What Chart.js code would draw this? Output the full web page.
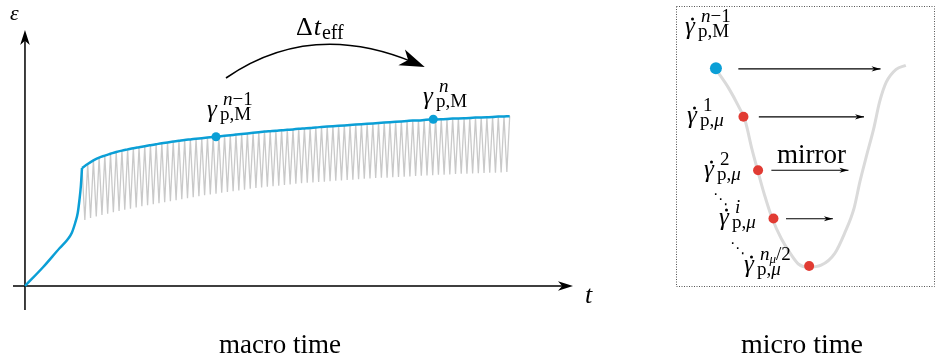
<!DOCTYPE html>
<html>
<head>
<meta charset="utf-8">
<script src="https://cdn.jsdelivr.net/npm/chart.js@4.4.1/dist/chart.umd.min.js"></script>
<style>
    html, body { margin: 0; padding: 0; background: #fff; overflow: hidden; }
    #macroChart { position: absolute; left: 0; top: 0; }
    #microChart { position: absolute; left: 670px; top: 0; }
</style>
</head>
<body>
<canvas id="macroChart" width="670" height="360"></canvas>
<canvas id="microChart" width="271" height="360"></canvas>
<script>
// macro time: x = load cycle, y = strain (arbitrary units)
const rampCycle = [0, 3.2, 6.1, 7.4, 8.2, 8.8, 9.25, 9.55, 9.8, 10];
const rampStrain = [0, 9.5, 19, 23, 26.5, 31.5, 36.5, 43, 50, 59];

const firstCycle = 10;
// strain at the top of each cycle (cycle 10 .. 85)
const peakStrain = [
    59, 61, 62.8, 64.2, 65.2, 66.1, 67, 67.7, 68.3, 68.9,
    69.4, 69.9, 70.4, 70.9, 71.4, 71.8, 72.2, 72.6, 73.0, 73.3,
    73.6, 73.9, 74.2, 74.5, 74.8, 75.1, 75.4, 75.7, 76.0, 76.3,
    76.6, 76.9, 77.2, 77.4, 77.6, 77.9, 78.1, 78.3, 78.6, 78.8,
    79.0, 79.3, 79.5, 79.7, 79.9, 80.1, 80.3, 80.5, 80.7, 80.9,
    81.1, 81.3, 81.5, 81.7, 81.9, 82.1, 82.3, 82.5, 82.7, 82.8,
    83.0, 83.2, 83.3, 83.4, 83.5, 83.7, 83.8, 83.9, 84.0, 84.2,
    84.3, 84.4, 84.5, 84.7, 84.8, 84.9
];
// strain at the bottom of each cycle (cycle 10.5 .. 84.5)
const valleyStrain = [
    33, 34, 34.8, 35.5, 36.2, 36.9, 37.5, 38.1, 38.7, 39.3,
    39.9, 40.4, 40.9, 41.4, 41.9, 42.4, 42.9, 43.4, 43.9, 44.4,
    44.9, 45.4, 45.8, 46.2, 46.6, 47.0, 47.4, 47.8, 48.2, 48.6,
    49.0, 49.3, 49.6, 49.9, 50.2, 50.5, 50.8, 51.1, 51.4, 51.6,
    51.8, 52.0, 52.2, 52.4, 52.6, 52.8, 53.0, 53.2, 53.4, 53.6,
    53.8, 54.0, 54.1, 54.2, 54.4, 54.5, 54.7, 54.8, 55.0, 55.1,
    55.3, 55.4, 55.6, 55.7, 55.8,
    56.0, 56.1, 56.2, 56.3, 56.4, 56.5, 56.6, 56.7, 56.8, 57.0
];
const macroMarkCycle = [33.5, 71.6];
const macroMarkStrain = [74.65, 83.35];

// micro time: x = phase within one cycle, y = plastic strain rate
const microPhase = [0, 0.067, 0.118, 0.154, 0.19, 0.221, 0.256, 0.297, 0.344, 0.395, 0.436, 0.487,
    0.554, 0.626, 0.677, 0.728, 0.759, 0.795, 0.831, 0.862, 0.897, 0.949, 1.0];
const microRate = [110, 100.5, 91.5, 84, 69.5, 58.5, 46.5, 34.5, 24.5, 16.5, 11.5, 10,
    11, 17, 27, 40, 53.5, 67, 80, 93.5, 103.5, 110, 112];
const startPhase = [0];
const startRate = [110.5];
const subPhase = [0.145, 0.222, 0.303, 0.491];
const subRate = [86, 59, 34.6, 10.6];
const mirrorFrom = [0.118, 0.226, 0.292, 0.369];
const mirrorTo = [0.897, 0.81, 0.728, 0.646];
const mirrorRate = [110.2, 86, 59, 34.5];

const BLUE = '#0b9fd6';
const RED = '#e13b33';
const SERIF = '"Liberation Serif", "DejaVu Serif", serif';

function font(size, italic) {
    return (italic ? 'italic ' : '') + size + 'px ' + SERIF;
}

function stealth(ctx, x, y, ang, len, half) {
    ctx.save();
    ctx.translate(x, y);
    ctx.rotate(ang);
    ctx.beginPath();
    ctx.moveTo(0, 0);
    ctx.lineTo(-len, -half);
    ctx.lineTo(-len * 0.72, 0);
    ctx.lineTo(-len, half);
    ctx.closePath();
    ctx.fill();
    ctx.restore();
}

function drawRuns(ctx, x, y, list, size) {
    for (const [txt, it, small] of list) {
        const s = small ? Math.round(size * 0.7) : size;
        ctx.font = font(s, it);
        ctx.fillText(txt, x, y + (small ? 3 : 0));
        x += ctx.measureText(txt).width;
    }
    return x;
}

function mathLabel(ctx, lab) {
    ctx.fillStyle = '#000';
    ctx.textAlign = 'left';
    ctx.textBaseline = 'alphabetic';
    ctx.font = font(25, true);
    ctx.fillText('γ', lab.x, lab.y);
    if (lab.dot) {
        ctx.beginPath();
        ctx.arc(lab.x + 7.5, lab.y - 15, 1.5, 0, Math.PI * 2);
        ctx.fill();
    }
    drawRuns(ctx, lab.x + 16, lab.y - 12, lab.sup, 19);
    drawRuns(ctx, lab.x + 13, lab.y + 3, lab.sub, 19);
}

function pt(xs, ys) {
    return xs.map((v, i) => ({ x: v, y: ys[i] }));
}

const sawPoints = [];
peakStrain.forEach((e, i) => {
    sawPoints.push({ x: firstCycle + i, y: e });
    if (i < valleyStrain.length) sawPoints.push({ x: firstCycle + i + 0.5, y: valleyStrain[i] });
});
const envelopePoints = peakStrain.map((e, i) => ({ x: firstCycle + i, y: e }));

const macroDecor = {
    id: 'macroDecor',
    beforeDatasetsDraw(chart) {
        const ctx = chart.ctx;
        const xs = chart.scales.x, ys = chart.scales.y;
        const ca = chart.chartArea;
        const x0 = xs.getPixelForValue(0), y0 = ys.getPixelForValue(0);
        ctx.save();
        ctx.strokeStyle = '#000';
        ctx.fillStyle = '#000';
        ctx.lineWidth = 1.5;
        ctx.beginPath();
        ctx.moveTo(x0, ca.bottom);
        ctx.lineTo(x0, ca.top + 10);
        ctx.moveTo(ca.left, y0);
        ctx.lineTo(ca.right - 10, y0);
        ctx.stroke();
        stealth(ctx, x0, ca.top, -Math.PI / 2, 15, 4.8);
        stealth(ctx, ca.right, y0, 0, 15, 4.8);
        ctx.restore();
    },
    afterDatasetsDraw(chart) {
        const ctx = chart.ctx;
        const xs = chart.scales.x, ys = chart.scales.y;
        ctx.save();
        ctx.fillStyle = '#000';
        ctx.textBaseline = 'alphabetic';

        // axis names
        ctx.font = font(22, true);
        ctx.fillText('ε', 10, 20);
        ctx.font = font(26, true);
        ctx.fillText('t', 585, 303);

        // effective time jump arc
        const sx = xs.getPixelForValue(35.25), sy = ys.getPixelForValue(104);
        const cx = xs.getPixelForValue(50.1), cy = ys.getPixelForValue(133.25);
        const ex = xs.getPixelForValue(70.1), ey = ys.getPixelForValue(109.5);
        const ang = Math.atan2(ey - cy, ex - cx);
        ctx.strokeStyle = '#000';
        ctx.lineWidth = 1.6;
        ctx.beginPath();
        ctx.moveTo(sx, sy);
        ctx.quadraticCurveTo(cx, cy, ex - 12 * Math.cos(ang), ey - 12 * Math.sin(ang));
        ctx.stroke();
        stealth(ctx, ex, ey, ang, 25, 8.5);

        ctx.font = font(26, false);
        ctx.fillText('Δ', 296, 35);
        let w = ctx.measureText('Δ').width;
        ctx.font = font(26, true);
        ctx.fillText('t', 296 + w + 1, 35);
        w += ctx.measureText('t').width + 2;
        ctx.font = font(20, false);
        ctx.fillText('eff', 296 + w, 39);

        mathLabel(ctx, { x: 207, y: 117, sup: [['n', 1], ['−1', 0]], sub: [['p,M', 0]] });
        mathLabel(ctx, { x: 423, y: 104, sup: [['n', 1]], sub: [['p,M', 0]] });

        ctx.font = font(27, false);
        ctx.textAlign = 'center';
        ctx.fillText('macro time', 280, 353);
        ctx.restore();
    }
};

new Chart(document.getElementById('macroChart'), {
    type: 'line',
    data: {
        datasets: [
            {
                data: pt(macroMarkCycle, macroMarkStrain),
                showLine: false,
                pointRadius: 4.5,
                pointBackgroundColor: BLUE,
                pointBorderWidth: 0,
                order: 0
            },
            {
                data: pt(rampCycle, rampStrain),
                borderColor: BLUE,
                borderWidth: 2.5,
                cubicInterpolationMode: 'monotone',
                order: 1
            },
            {
                data: envelopePoints,
                borderColor: BLUE,
                borderWidth: 2.5,
                cubicInterpolationMode: 'monotone',
                order: 1
            },
            {
                data: sawPoints,
                borderColor: '#c9c9c9',
                borderWidth: 1.3,
                tension: 0,
                order: 2
            }
        ]
    },
    options: {
        responsive: false,
        animation: false,
        devicePixelRatio: 1,
        layout: { padding: { left: 13, right: 97, top: 30, bottom: 50 } },
        plugins: { legend: { display: false }, tooltip: { enabled: false } },
        elements: { point: { radius: 0 } },
        scales: {
            x: { type: 'linear', min: -2.1, max: 96.1, display: false },
            y: { type: 'linear', min: -12, max: 128, display: false }
        }
    },
    plugins: [macroDecor]
});

const microDecor = {
    id: 'microDecor',
    beforeDatasetsDraw(chart) {
        const ctx = chart.ctx;
        const ca = chart.chartArea;
        ctx.save();
        ctx.strokeStyle = '#555';
        ctx.lineWidth = 1;
        ctx.setLineDash([1, 1.5]);
        ctx.strokeRect(ca.left + 0.5, ca.top + 0.5, ca.right - ca.left - 1, ca.bottom - ca.top - 1);
        ctx.restore();
    },
    afterDatasetsDraw(chart) {
        const ctx = chart.ctx;
        ctx.save();
        ctx.fillStyle = '#000';
        chart.data.datasets.forEach((ds, i) => {
            if (!ds.arrow) return;
            const pts = chart.getDatasetMeta(i).data;
            const a = pts[0], b = pts[pts.length - 1];
            stealth(ctx, b.x, b.y, Math.atan2(b.y - a.y, b.x - a.x), 9, 2.6);
        });

        mathLabel(ctx, { x: 15, y: 34, dot: true, sup: [['n', 1], ['−1', 0]], sub: [['p,M', 0]] });
        mathLabel(ctx, { x: 17, y: 123, dot: true, sup: [['1', 0]], sub: [['p,', 0], ['μ', 1]] });
        mathLabel(ctx, { x: 34, y: 177, dot: true, sup: [['2', 0]], sub: [['p,', 0], ['μ', 1]] });
        mathLabel(ctx, { x: 49, y: 225, dot: true, sup: [['i', 1]], sub: [['p,', 0], ['μ', 1]] });
        mathLabel(ctx, { x: 74, y: 272, dot: true, sup: [['n', 1], ['μ', 1, 1], ['/2', 0]], sub: [['p,', 0], ['μ', 1]] });

        ctx.font = '15px "DejaVu Sans", sans-serif';
        ctx.fillText('⋱', 43, 204);
        ctx.fillText('⋱', 60, 253);

        ctx.font = font(27, false);
        ctx.fillText('mirror', 107, 163);
        ctx.textAlign = 'center';
        ctx.font = font(28, false);
        ctx.fillText('micro time', 132, 353);
        ctx.restore();
    }
};

const mirrorSets = mirrorFrom.map((p, i) => ({
    data: [{ x: p, y: mirrorRate[i] }, { x: mirrorTo[i] - 0.03, y: mirrorRate[i] }],
    borderColor: '#000',
    borderWidth: 1.2,
    arrow: true,
    order: 1
}));

new Chart(document.getElementById('microChart'), {
    type: 'line',
    data: {
        datasets: [
            {
                data: pt(startPhase, startRate),
                showLine: false,
                pointRadius: 6,
                pointBackgroundColor: BLUE,
                pointBorderWidth: 0,
                order: 0
            },
            {
                data: pt(subPhase, subRate),
                showLine: false,
                pointRadius: 5,
                pointBackgroundColor: RED,
                pointBorderWidth: 0,
                order: 0
            },
            ...mirrorSets,
            {
                data: pt(microPhase, microRate),
                borderColor: '#dadada',
                borderWidth: 3,
                cubicInterpolationMode: 'monotone',
                order: 2
            }
        ]
    },
    options: {
        responsive: false,
        animation: false,
        devicePixelRatio: 1,
        layout: { padding: { left: 4, right: 1, top: 3, bottom: 73 } },
        plugins: { legend: { display: false }, tooltip: { enabled: false } },
        elements: { point: { radius: 0 } },
        scales: {
            x: { type: 'linear', min: -0.2103, max: 1.1538, display: false },
            y: { type: 'linear', min: 0, max: 142, display: false }
        }
    },
    plugins: [microDecor]
});
</script>
</body>
</html>
